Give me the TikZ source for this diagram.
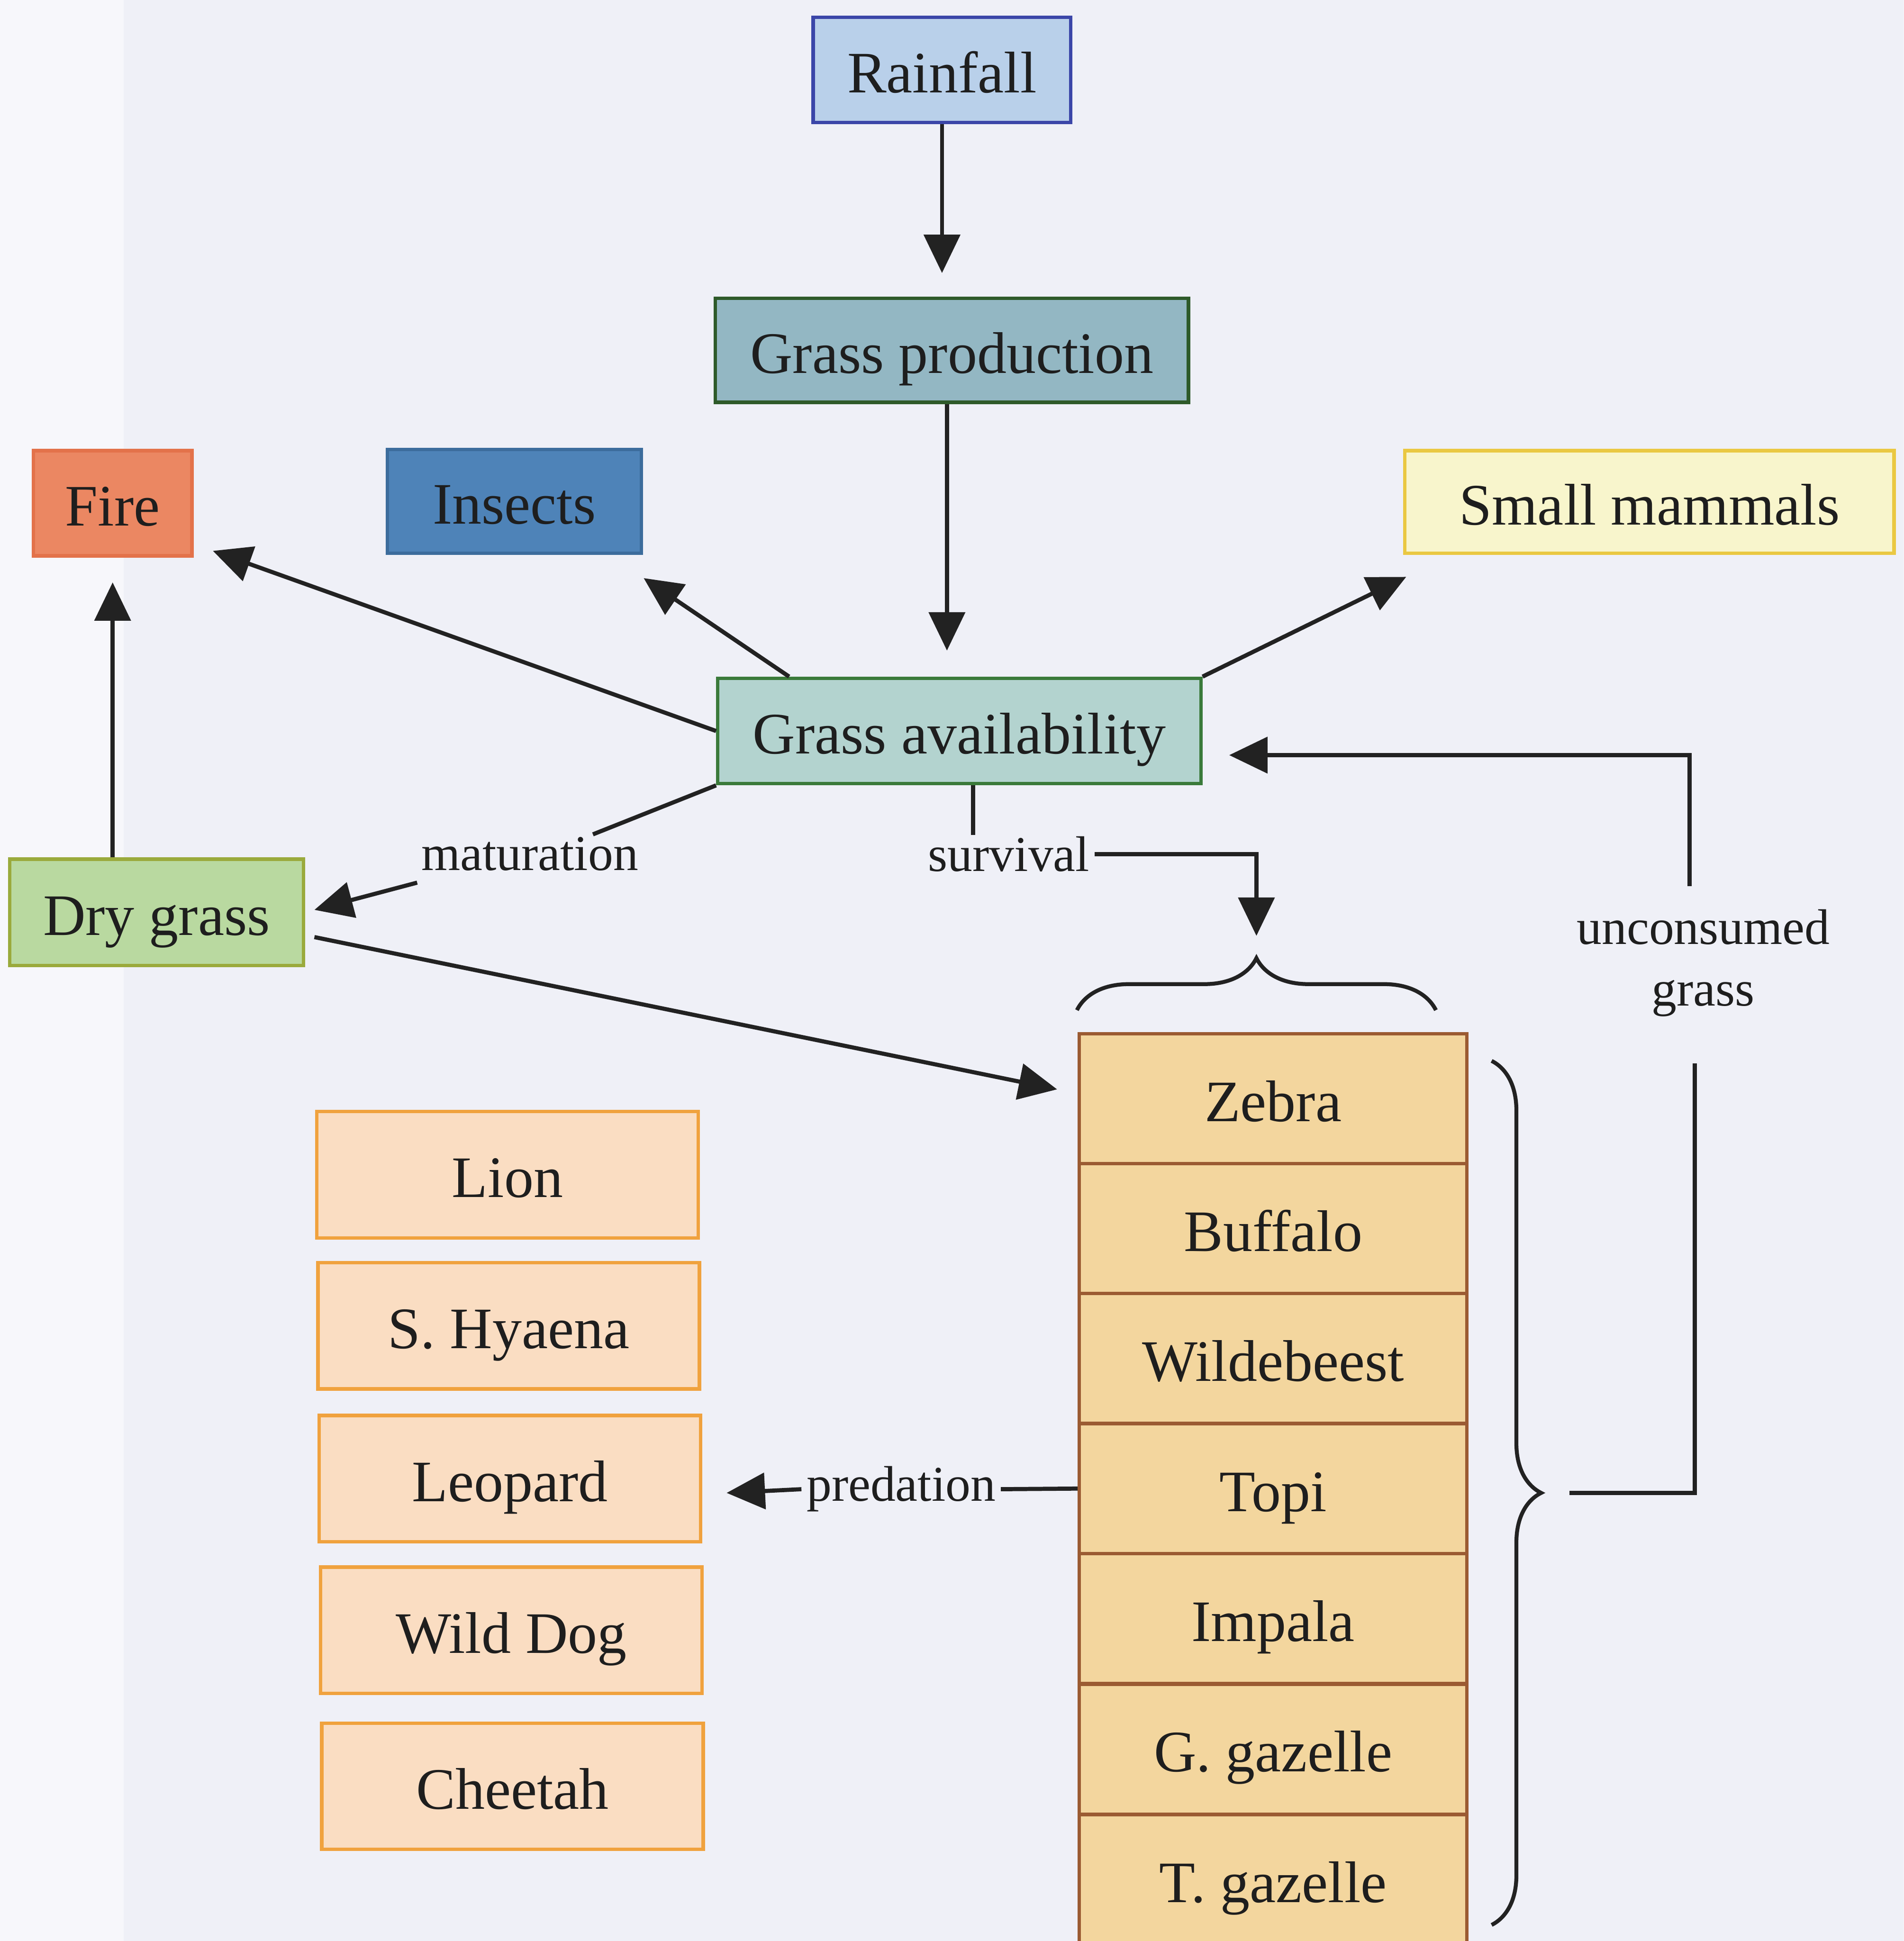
\documentclass[tikz,border=0pt]{standalone}
\usepackage{fontspec}
\setmainfont{Liberation Serif}
\usetikzlibrary{arrows.meta,decorations.pathreplacing,calc}
\definecolor{bg}{HTML}{EFF0F7}
\definecolor{strip}{HTML}{F7F7FB}
\definecolor{rainF}{HTML}{B9D0EA}
\definecolor{rainD}{HTML}{3B46A8}
\definecolor{gprodF}{HTML}{93B7C3}
\definecolor{gprodD}{HTML}{2E5A2A}
\definecolor{fireF}{HTML}{EB8762}
\definecolor{fireD}{HTML}{E3724A}
\definecolor{insF}{HTML}{4E83B8}
\definecolor{insD}{HTML}{3C6C9C}
\definecolor{smF}{HTML}{F8F5CC}
\definecolor{smD}{HTML}{EAC842}
\definecolor{gaF}{HTML}{B3D3CF}
\definecolor{gaD}{HTML}{3A7A3A}
\definecolor{dryF}{HTML}{B9D9A0}
\definecolor{dryD}{HTML}{9AAA3C}
\definecolor{anF}{HTML}{F3D69E}
\definecolor{anD}{HTML}{9B5B32}
\definecolor{prF}{HTML}{FADDC2}
\definecolor{prD}{HTML}{F0A23E}
\definecolor{lin}{HTML}{222222}
\definecolor{txt}{HTML}{1E1E1E}
\begin{document}
\begin{tikzpicture}[x=0.01cm,y=-0.01cm,
  box/.style={draw, line width=0.8pt, inner sep=0pt, font=\fontsize{13.5}{16}\selectfont, text=txt, text height=12pt, text depth=1.6pt},
  animal/.style={box, fill=anF, draw=anD, minimum width=3.13cm, minimum height=1.05cm},
  predator/.style={box, fill=prF, draw=prD, minimum width=3.08cm, minimum height=1.02cm},
  lbl/.style={font=\fontsize{11.5}{14.2}\selectfont, text=txt, inner sep=1pt},
  arr/.style={draw=lin, line width=0.95pt, -{Triangle[length=0.31cm,width=0.29cm]}},
  ln/.style={draw=lin, line width=0.95pt},
  brc/.style={draw=lin, line width=0.9pt, decorate, decoration={brace, amplitude=0.42cm}}]
\useasboundingbox (0,0) rectangle (1538,1568);
\clip (0,0) rectangle (1538,1568);
\fill[bg] (0,0) rectangle (1538,1568);
\fill[strip] (0,0) rectangle (100,1568);

% top nodes
\node[box, fill=rainF, draw=rainD, minimum width=2.08cm, minimum height=0.85cm] (rain) at (761,56.5) {Rainfall};
\node[box, fill=gprodF, draw=gprodD, minimum width=3.82cm, minimum height=0.84cm] (gprod) at (769,283) {Grass production};
\node[box, fill=fireF, draw=fireD, minimum width=1.28cm, minimum height=0.85cm] (fire) at (91,406.5) {Fire};
\node[box, fill=insF, draw=insD, minimum width=2.05cm, minimum height=0.84cm] (insects) at (415.5,405) {Insects};
\node[box, fill=smF, draw=smD, minimum width=3.95cm, minimum height=0.83cm] (small) at (1332.5,405.5) {Small mammals};
\node[box, fill=gaF, draw=gaD, minimum width=3.9cm, minimum height=0.85cm] (gavail) at (775,590.5) {Grass availability};
\node[box, fill=dryF, draw=dryD, minimum width=2.37cm, minimum height=0.86cm] (dry) at (126.5,737) {Dry grass};

% labels
\node[lbl] (mat) at (428,690) {maturation};
\node[lbl] (surv) at (815,690) {survival};
\node[lbl, align=center] (uncons) at (1376,778) {unconsumed\\grass};
\node[lbl] (pred) at (728,1203) {predation};

% herbivore column
\node[animal] (zebra) at (1028.5,887.5) {Zebra};
\node[animal] (buffalo) at (1028.5,992.5) {Buffalo};
\node[animal] (wildebeest) at (1028.5,1097.5) {Wildebeest};
\node[animal] (topi) at (1028.5,1202.5) {Topi};
\node[animal] (impala) at (1028.5,1307.5) {Impala};
\node[animal] (ggaz) at (1028.5,1413) {G. gazelle};
\node[animal] (tgaz) at (1028.5,1518.5) {T. gazelle};

% predators
\node[predator] (lion) at (410,949) {Lion};
\node[predator] (hyaena) at (411,1071) {S. Hyaena};
\node[predator] (leopard) at (412,1194.5) {Leopard};
\node[predator] (wilddog) at (413,1317) {Wild Dog};
\node[predator] (cheetah) at (414,1443) {Cheetah};

% coordinates for free ends
\coordinate (fireT) at (172,445);
\coordinate (insT) at (520,467);
\coordinate (smT) at (1136,466);
\coordinate (matA) at (479,674);
\coordinate (matB) at (337,713);
\coordinate (dryT) at (254,735);
\coordinate (dryS) at (254,757);
\coordinate (zebT) at (854,880);
\coordinate (survT) at (1015,756);
\coordinate (ucLow) at (1268,1206);
\coordinate (ucLowTop) at (1369,859);
\coordinate (ucUp) at (1365,716);
\coordinate (gaT) at (993,610);
\coordinate (predT) at (587,1206);
\coordinate (brL) at (870,816);
\coordinate (brR) at (1160,816);
\coordinate (brT) at (1205,857);
\coordinate (brB) at (1205,1555);

% connectors
\draw[arr, shorten >=0.19cm] (rain.south) -- (rain.south |- gprod.north);
\draw[arr, shorten >=0.21cm] ($(gprod.south)+(-4,0)$) -- ($(gprod.south |- gavail.north)+(-4,0)$);
\draw[arr] (gavail.west) -- (fireT);
\draw[arr] ($(gavail.north west)+(59,0)$) -- (insT);
\draw[arr] (gavail.north east) -- (smT);
\draw[ln] (gavail.south west) -- (matA);
\draw[arr] (matB) -- (dryT);
\draw[arr, shorten >=0.2cm] (fire.south |- dry.north) -- (fire.south);
\draw[arr] (dryS) -- (zebT);
\draw[ln] ($(gavail.south)+(11,0)$) -- ($(gavail.south)+(11,40)$);
\draw[arr] (surv.east) -| (survT);
\draw[ln] (ucLow) -| (ucLowTop);
\draw[arr] (ucUp) |- (gaT);
\draw[ln] (topi.west) -- (pred.east);
\draw[arr] (pred.west) -- (predT);

% braces
\draw[brc] (brL) -- (brR);
\draw[brc, decoration={brace, amplitude=0.40cm}] (brT) -- (brB);
\end{tikzpicture}
\end{document}
